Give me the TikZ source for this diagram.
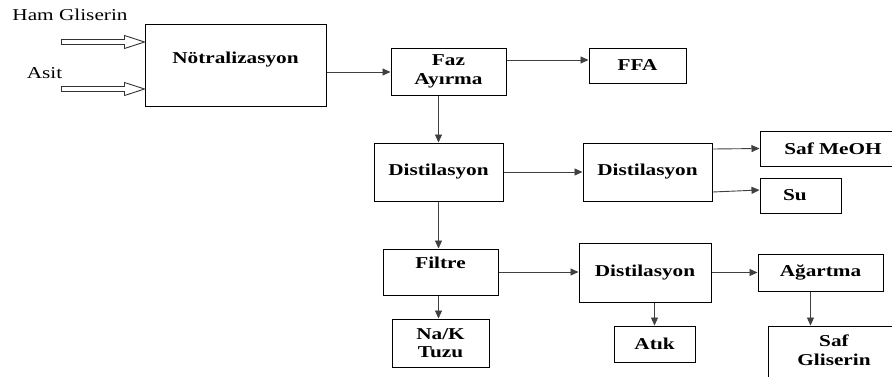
\documentclass[tikz,border=0pt]{standalone}
\usepackage{fontspec}
\setmainfont{Liberation Serif}[FakeStretch=1.28]
\usetikzlibrary{arrows.meta,calc}

\newcommand\chartfont{\fontsize{16.6}{18.5}\selectfont}
\tikzset{
  stage/.style={draw, line width=1pt, font=\chartfont\bfseries, align=center, inner sep=2pt},
  flow/.style={draw=black!75, line width=0.9pt, -{Triangle[length=8pt,width=7pt]}},
  feed/.style={draw=black!80, line width=0.9pt, fill=white},
  lift/.style={text height=12pt, text depth=#1},
}

\begin{document}
\begin{tikzpicture}[x=1pt,y=-1pt,font=\chartfont]
	\useasboundingbox (0,0) rectangle (892,376);
	\clip (0,0) rectangle (892,376);
	% process stages
	\node[stage, minimum width=181pt, minimum height=82pt, lift=16pt] (nt) at (235.5,65) {Nötralizasyon};
	\node[stage, minimum width=115pt, minimum height=47pt] (fa) at (448.5,71.5) {Faz\\Ayırma};
	\node[stage, minimum width=97pt, minimum height=35pt] (ffa) at (637.5,65.5) {FFA};
	\node[stage, minimum width=129pt, minimum height=58pt] (d1) at (438.5,172) {Distilasyon};
	\node[stage, minimum width=129pt, minimum height=58pt] (d2) at (647.5,172) {Distilasyon};
	\node[stage, minimum width=146pt, minimum height=35pt] (meoh) at (833,148.5) {Saf MeOH};
	\node[stage, minimum height=35pt, text width=35pt, inner xsep=23pt, align=left] (su) at (800.5,195.5) {Su};
	\node[stage, minimum width=115pt, minimum height=46pt, lift=20pt] (fil) at (440.5,272) {Filtre};
	\node[stage, minimum width=132pt, minimum height=59pt] (d3) at (645,272.5) {Distilasyon};
	\node[stage, minimum width=125pt, minimum height=37pt] (ag) at (820.5,272.5) {Ağartma};
	\node[stage, minimum width=97pt, minimum height=48pt] (nak) at (440.5,343) {Na/K\\Tuzu};
	\node[stage, minimum width=81pt, minimum height=36pt] (atk) at (654.5,344) {Atık};
	\node[stage, minimum width=132pt, minimum height=80pt, lift=14pt] (sg) at (834,366) {Saf\\Gliserin};
	% inputs
	\node (hamlbl) at (70,15) {Ham Gliserin};
	\node (asitlbl) at (44.5,73) {Asit};
	\coordinate (hamtip) at (nt.west |- 0,42);
	\coordinate (asittip) at (nt.west |- 0,89);
	\foreach \t in {hamtip,asittip}
		\draw[feed] ($(\t)+(-83,-2.5)$) -- ++(63,0) -- ++(0,-4) -- (\t) -- ++(-20,6.5) -- ++(0,-4) -- ++(-63,0) -- cycle;
	% flows
	\draw[flow] (nt.east |- 0,72) -- (fa.west |- 0,72);
	\draw[flow] ([yshift=11.5pt]fa.east) -- ([yshift=11.5pt]fa.east -| ffa.west);
	\draw[flow] (d1.north |- fa.south) -- (d1.north);
	\draw[flow] (d1.east) -- (d2.west);
	\draw[flow] ([yshift=23pt]d2.east) -- (meoh.west);
	\draw[flow] ([yshift=-20pt]d2.east) -- ([yshift=5.5pt]su.west);
	\draw[flow] (d1.south) -- (d1.south |- fil.north);
	\draw[flow] (fil.east) -- (fil.east -| d3.west);
	\draw[flow] (fil.south -| d1.south) -- (nak.north -| d1.south);
	\draw[flow] (d3.east) -- (d3.east -| ag.west);
	\draw[flow] (atk.north |- d3.south) -- (atk.north);
	\draw[flow] ([xshift=-10pt]ag.south) -- ([xshift=-10pt]ag.south |- sg.north);
\end{tikzpicture}
\end{document}
